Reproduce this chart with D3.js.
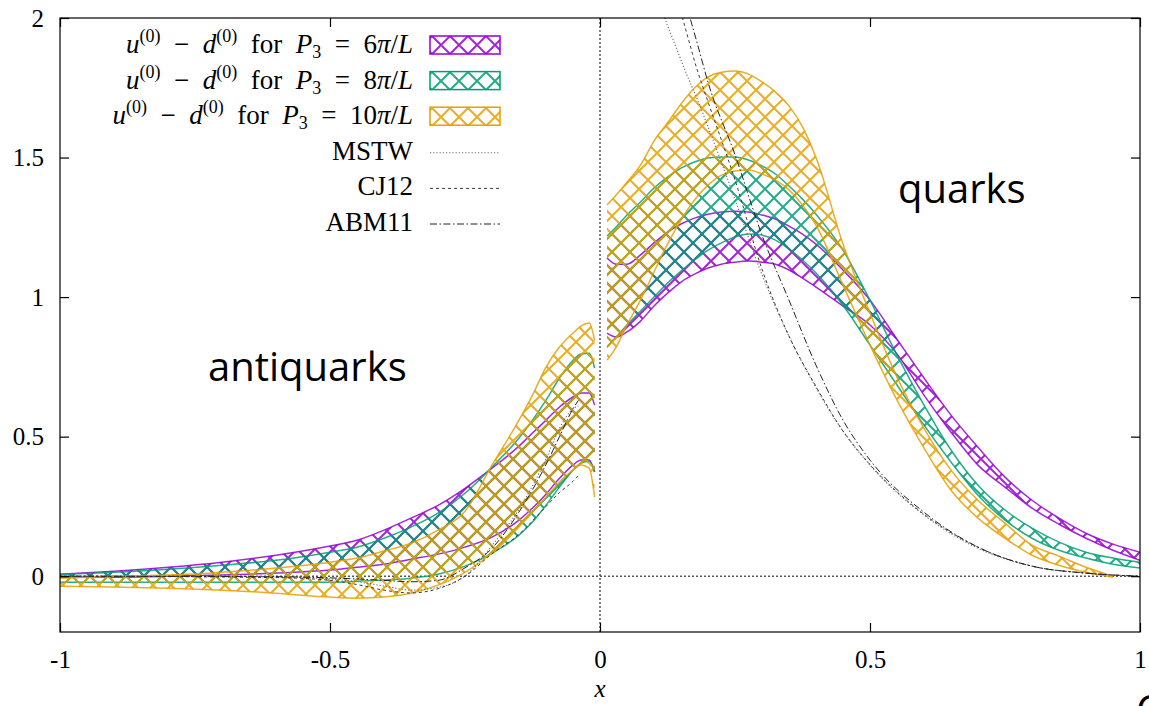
<!DOCTYPE html>
<html><head><meta charset="utf-8">
<script src="https://cdn.jsdelivr.net/npm/d3@7"></script>
<style>body{margin:0;background:#fff;} svg{display:block}</style>
</head><body>
<svg id="c" width="1149" height="706"></svg>
<script>
// ---------- data ----------
const xTicks = [-1, -0.5, 0, 0.5, 1];
const yTicks = [0, 0.5, 1, 1.5, 2];
const momenta = ["6", "8", "10"];
const bandColors = ["#9400D3", "#009E73", "#E69F00"];
const phenoNames = ["MSTW", "CJ12", "ABM11"];

// antiquark side (x < 0)
const xNeg = [-1, -0.9, -0.8, -0.7, -0.6, -0.5, -0.45, -0.4, -0.35, -0.3, -0.25, -0.2, -0.15, -0.125, -0.1, -0.075, -0.05, -0.035, -0.02, -0.01];
const p6NegUpper  = [0.007, 0.018, 0.032, 0.050, 0.075, 0.108, 0.129, 0.165, 0.208, 0.254, 0.315, 0.387, 0.466, 0.513, 0.559, 0.606, 0.642, 0.656, 0.656, 0.613];
const p6NegLower  = [-0.004, -0.004, 0.000, 0.004, 0.011, 0.022, 0.032, 0.043, 0.061, 0.079, 0.104, 0.140, 0.201, 0.244, 0.294, 0.351, 0.398, 0.416, 0.416, 0.373];
const p8NegUpper  = [0.007, 0.014, 0.025, 0.039, 0.057, 0.086, 0.104, 0.136, 0.176, 0.226, 0.297, 0.391, 0.495, 0.559, 0.631, 0.710, 0.774, 0.796, 0.799, 0.746];
const p8NegLower  = [-0.022, -0.022, -0.022, -0.022, -0.022, -0.022, -0.018, -0.014, -0.007, 0.007, 0.036, 0.082, 0.147, 0.194, 0.254, 0.319, 0.380, 0.405, 0.412, 0.373];
const p10NegUpper = [-0.007, 0.000, 0.004, 0.014, 0.029, 0.050, 0.065, 0.090, 0.118, 0.165, 0.233, 0.398, 0.559, 0.649, 0.749, 0.821, 0.871, 0.896, 0.907, 0.846];
const p10NegLower = [-0.036, -0.039, -0.043, -0.050, -0.061, -0.075, -0.079, -0.075, -0.061, -0.032, 0.014, 0.082, 0.176, 0.229, 0.283, 0.337, 0.380, 0.398, 0.387, 0.283];

// quark side (x > 0)
const xPos = [0.013, 0.03, 0.05, 0.075, 0.1, 0.125, 0.15, 0.175, 0.2, 0.225, 0.25, 0.275, 0.3, 0.325, 0.35, 0.375, 0.4, 0.45, 0.5, 0.55, 0.6, 0.65, 0.7, 0.75, 0.8, 0.85, 0.9, 0.95, 1.0];
const p6PosUpper  = [1.140, 1.118, 1.118, 1.151, 1.194, 1.233, 1.262, 1.283, 1.297, 1.305, 1.308, 1.305, 1.294, 1.280, 1.254, 1.226, 1.190, 1.097, 0.989, 0.849, 0.710, 0.577, 0.462, 0.355, 0.272, 0.208, 0.154, 0.115, 0.086];
const p6PosLower  = [0.871, 0.857, 0.875, 0.914, 0.968, 1.014, 1.054, 1.082, 1.104, 1.118, 1.125, 1.129, 1.125, 1.118, 1.097, 1.068, 1.036, 0.968, 0.900, 0.796, 0.649, 0.516, 0.398, 0.319, 0.244, 0.186, 0.136, 0.093, 0.057];
const p8PosUpper  = [1.219, 1.251, 1.294, 1.341, 1.391, 1.430, 1.462, 1.484, 1.498, 1.502, 1.502, 1.491, 1.470, 1.441, 1.398, 1.351, 1.297, 1.168, 0.989, 0.792, 0.613, 0.452, 0.326, 0.237, 0.172, 0.122, 0.086, 0.065, 0.050];
const p8PosLower  = [0.821, 0.857, 0.900, 0.950, 1.000, 1.050, 1.093, 1.133, 1.168, 1.194, 1.215, 1.226, 1.222, 1.204, 1.172, 1.133, 1.086, 0.971, 0.828, 0.685, 0.541, 0.409, 0.290, 0.201, 0.136, 0.093, 0.065, 0.043, 0.029];
const xPos10 = [0.013, 0.03, 0.05, 0.075, 0.1, 0.125, 0.15, 0.175, 0.2, 0.225, 0.25, 0.275, 0.3, 0.325, 0.35, 0.375, 0.4, 0.45, 0.5, 0.55, 0.6, 0.65, 0.7, 0.75, 0.8, 0.85, 0.9, 0.95];
const p10PosUpper = [1.330, 1.366, 1.412, 1.473, 1.559, 1.624, 1.692, 1.749, 1.789, 1.806, 1.810, 1.799, 1.771, 1.735, 1.685, 1.610, 1.500, 1.190, 0.943, 0.713, 0.530, 0.380, 0.272, 0.190, 0.111, 0.072, 0.032, 0.000];
const p10PosLower = [0.774, 0.821, 0.900, 0.989, 1.090, 1.190, 1.276, 1.348, 1.401, 1.437, 1.452, 1.455, 1.441, 1.419, 1.384, 1.330, 1.258, 1.043, 0.828, 0.631, 0.459, 0.308, 0.208, 0.136, 0.075, 0.039, 0.014, -0.004];

// phenomenological curves
const xPhenoNeg = [-1, -0.6, -0.5, -0.45, -0.4, -0.35, -0.3, -0.25, -0.2, -0.15, -0.1, -0.075, -0.05, -0.04];
const mstwNeg  = [0, -0.003, -0.010, -0.020, -0.035, -0.050, -0.040, 0.000, 0.110, 0.240, 0.420, 0.530, 0.600, 0.610];
const cj12Neg  = [0, -0.005, -0.015, -0.030, -0.050, -0.060, -0.045, 0.000, 0.080, 0.150, 0.250, 0.300, 0.340, 0.360];
const abm11Neg = [0, -0.002, -0.006, -0.010, -0.015, -0.020, -0.015, 0.030, 0.100, 0.230, 0.400, 0.500, 0.600, 0.630];
const xPhenoPos = [0.08, 0.1, 0.12, 0.14, 0.16, 0.18, 0.2, 0.25, 0.3, 0.35, 0.4, 0.45, 0.5, 0.6, 0.7, 0.8, 0.9, 1.0];
const mstwPos  = [2.30, 2.13, 2.00, 1.90, 1.80, 1.71, 1.61, 1.35, 1.08, 0.86, 0.675, 0.52, 0.398, 0.219, 0.100, 0.036, 0.011, 0.0];
const cj12Pos  = [2.50, 2.37, 2.23, 2.09, 1.95, 1.814, 1.70, 1.42, 1.10, 0.86, 0.68, 0.52, 0.40, 0.222, 0.104, 0.036, 0.011, 0.0];
const abm11Pos = [2.60, 2.47, 2.33, 2.19, 2.047, 1.91, 1.77, 1.51, 1.222, 0.989, 0.756, 0.559, 0.416, 0.229, 0.104, 0.036, 0.011, 0.0];

// ---------- build ----------
const bands = [
  {neg: [xNeg, p6NegUpper, p6NegLower],  pos: [xPos, p6PosUpper, p6PosLower]},
  {neg: [xNeg, p8NegUpper, p8NegLower],  pos: [xPos, p8PosUpper, p8PosLower]},
  {neg: [xNeg, p10NegUpper, p10NegLower], pos: [xPos10, p10PosUpper, p10PosLower]}
];
const pheno = [
  {neg: mstwNeg, pos: mstwPos, color: "#6a6a6a", dash: "1.2,2", width: 1.1},
  {neg: cj12Neg, pos: cj12Pos, color: "#3a3a3a", dash: "3,3", width: 1},
  {neg: abm11Neg, pos: abm11Pos, color: "#222", dash: "7,2.5,1.5,2.5", width: 1}
];

const L = 60, R = 1140, T = 18, B = 632;
const X = d3.scaleLinear().domain([-1, 1]).range([L, R]);
const Y = d3.scaleLinear().domain([-0.2, 2]).range([B, T]);
const serif = "'Liberation Serif','DejaVu Serif',serif";
const sans = "'Open Sans','Noto Sans',sans-serif";

const svg = d3.select("#c");
svg.append("rect").attr("width", 1149).attr("height", 706).attr("fill", "#fff");
const defs = svg.append("defs");
defs.append("clipPath").attr("id", "clip").append("rect")
  .attr("x", L).attr("y", T).attr("width", R - L).attr("height", B - T);
bandColors.forEach((c, i) => {
  const p = defs.append("pattern").attr("id", "hatch" + i)
    .attr("patternUnits", "userSpaceOnUse").attr("width", 18).attr("height", 18);
  p.append("path").attr("d", "M-2,-2L20,20M20,-2L-2,20")
    .attr("stroke", c).attr("stroke-width", 2).attr("fill", "none").attr("stroke-opacity", 0.85);
});

const plot = svg.append("g").attr("clip-path", "url(#clip)");

// zero lines
plot.append("line").attr("x1", L).attr("x2", R).attr("y1", Y(0)).attr("y2", Y(0))
  .attr("stroke", "#000").attr("stroke-width", 1).attr("stroke-dasharray", "2,2");
plot.append("line").attr("x1", X(0)).attr("x2", X(0)).attr("y1", T).attr("y2", B)
  .attr("stroke", "#000").attr("stroke-width", 1).attr("stroke-dasharray", "2,2");

const curve = d3.curveMonotoneX;
const area = d3.area().x(d => X(d.x)).y0(d => Y(d.l)).y1(d => Y(d.u)).curve(curve);
const lineU = d3.line().x(d => X(d.x)).y(d => Y(d.u)).curve(curve);
const lineL = d3.line().x(d => X(d.x)).y(d => Y(d.l)).curve(curve);

bands.forEach((b, i) => {
  [b.neg, b.pos].forEach(side => {
    const [xs, up, lo] = side;
    const data = xs.map((x, j) => ({x, u: up[j], l: lo[j]}));
    plot.append("path").attr("d", area(data)).attr("fill", `url(#hatch${i})`).attr("stroke", "none");
    [lineU, lineL].forEach(ln => {
      plot.append("path").attr("d", ln(data)).attr("fill", "none")
        .attr("stroke", bandColors[i]).attr("stroke-width", 1.5).attr("stroke-opacity", 0.85);
    });
  });
});

const lineP = d3.line().x(d => X(d[0])).y(d => Y(d[1])).curve(curve);
pheno.forEach(p => {
  [[xPhenoNeg, p.neg], [xPhenoPos, p.pos]].forEach(([xs, ys]) => {
    plot.append("path").attr("d", lineP(xs.map((x, j) => [x, ys[j]])))
      .attr("fill", "none").attr("stroke", p.color).attr("stroke-width", p.width)
      .attr("stroke-dasharray", p.dash);
  });
});

// frame
svg.append("rect").attr("x", L).attr("y", T).attr("width", R - L).attr("height", B - T)
  .attr("fill", "none").attr("stroke", "#000").attr("stroke-width", 1.2);

// axes
const fmt = d => String(d);
const axB = svg.append("g").attr("transform", `translate(0,${B})`)
  .call(d3.axisBottom(X).tickValues(xTicks).tickSizeInner(-9).tickSizeOuter(0).tickPadding(18).tickFormat(fmt));
const axT = svg.append("g").attr("transform", `translate(0,${T})`)
  .call(d3.axisTop(X).tickValues(xTicks).tickSizeInner(-9).tickSizeOuter(0).tickFormat(""));
const axL = svg.append("g").attr("transform", `translate(${L},0)`)
  .call(d3.axisLeft(Y).tickValues(yTicks).tickSizeInner(-9).tickSizeOuter(0).tickPadding(16).tickFormat(fmt));
const axR = svg.append("g").attr("transform", `translate(${R},0)`)
  .call(d3.axisRight(Y).tickValues(yTicks).tickSizeInner(-9).tickSizeOuter(0).tickFormat(""));
[axB, axT, axL, axR].forEach(a => {
  a.select(".domain").remove();
  a.selectAll("line").attr("stroke", "#000").attr("stroke-width", 1.2);
  a.selectAll("text").attr("font-family", serif).attr("font-size", 25).attr("fill", "#000");
});

svg.append("text").attr("x", X(0)).attr("y", 697).attr("text-anchor", "middle")
  .attr("font-family", serif).attr("font-style", "italic").attr("font-size", 25).text("x");

// legend
const legX = 413, boxX = 430, boxW = 70;
const rowY = i => 53 + i * 35.6;
momenta.forEach((m, i) => {
  const t = svg.append("text").attr("x", legX).attr("y", rowY(i)).attr("text-anchor", "end")
    .attr("font-family", serif).attr("font-size", 27).attr("fill", "#000");
  const add = (s, o = {}) => {
    const ts = t.append("tspan").text(s);
    if (o.it) ts.attr("font-style", "italic");
    if (o.fs) ts.attr("font-size", o.fs);
    if (o.dy) ts.attr("dy", o.dy);
    return ts;
  };
  add("u", {it: 1}); add("(0)", {fs: 18, dy: -11});
  add("\u2002\u2212\u2002", {dy: 11}); add("d", {it: 1}); add("(0)", {fs: 18, dy: -11});
  add("\u2002for\u2002", {dy: 11}); add("P", {it: 1}); add("3", {fs: 18, dy: 5});
  add("\u2002=\u2002", {dy: -5}); add(m); add("\u03c0", {it: 1}); add("/"); add("L", {it: 1});
  svg.append("rect").attr("x", boxX).attr("y", rowY(i) - 17).attr("width", boxW).attr("height", 18)
    .attr("fill", `url(#hatch${i})`).attr("stroke", bandColors[i]).attr("stroke-width", 1.5);
});
phenoNames.forEach((n, k) => {
  const i = k + 3;
  svg.append("text").attr("x", legX).attr("y", rowY(i)).attr("text-anchor", "end")
    .attr("font-family", serif).attr("font-size", 27).attr("fill", "#000").text(n);
  svg.append("line").attr("x1", boxX).attr("x2", boxX + boxW).attr("y1", rowY(i) - 7).attr("y2", rowY(i) - 7)
    .attr("stroke", pheno[k].color).attr("stroke-width", pheno[k].width).attr("stroke-dasharray", pheno[k].dash);
});

// annotations
svg.append("text").attr("x", 208).attr("y", 381).attr("font-family", sans).attr("font-size", 40)
  .attr("fill", "#000").text("antiquarks");
svg.append("text").attr("x", 898).attr("y", 203).attr("font-family", sans).attr("font-size", 40)
  .attr("fill", "#000").text("quarks");
svg.append("text").attr("x", 1136).attr("y", 724).attr("font-family", sans).attr("font-size", 40)
  .attr("fill", "#000").text("C");
</script>
</body></html>
